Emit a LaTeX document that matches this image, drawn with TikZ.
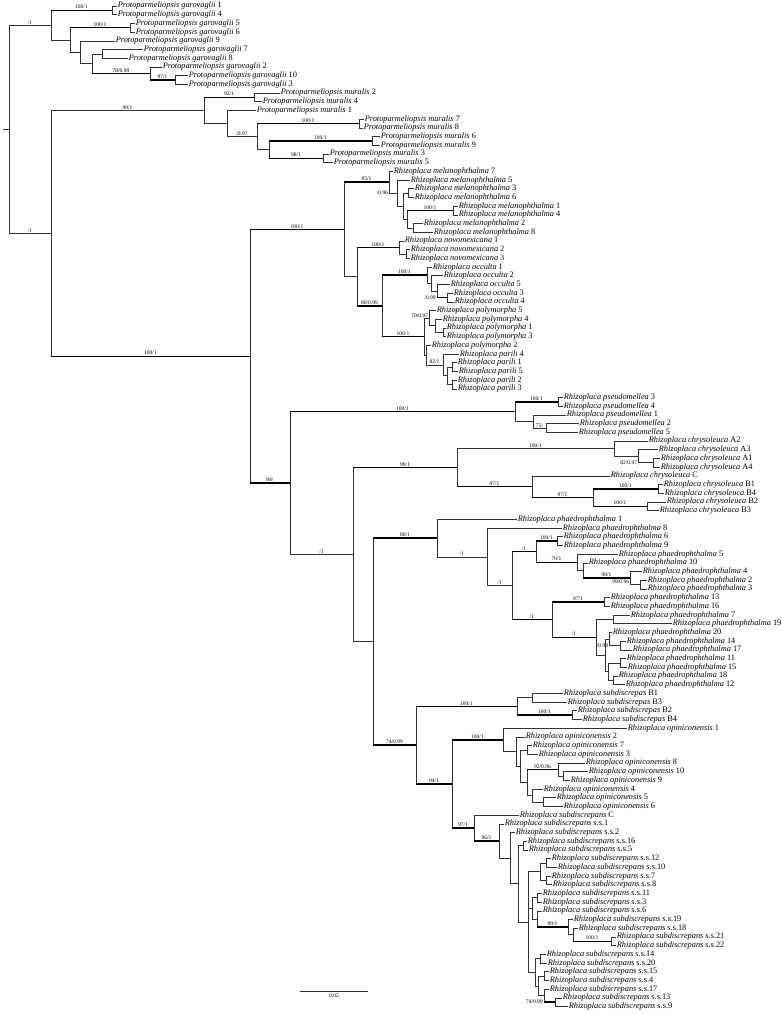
\documentclass[tikz,border=0pt]{standalone}
\usepackage{fontspec}
\setmainfont{Liberation Serif}
\usetikzlibrary{calc}

% inner node of the tree: name, x, first child, last child
\newcommand{\clade}[4]{%
  \path ($(#3)!0.5!(#4)$) coordinate (cmid);
  \coordinate (#1) at (cmid -| #2,0);}

\begin{document}
\begin{tikzpicture}[x=1pt, y=-8.7pt,
    br/.style={draw=black!80, line width=0.6pt},
    hb/.style={draw=black, line width=1.4pt},
    lf/.style={anchor=west, inner sep=0.6pt, font=\fontsize{8.3}{9}\selectfont},
    bs/.style={above, inner sep=0.6pt, font=\fontsize{5.5}{6}\selectfont},
    bsl/.style={anchor=east, inner sep=0.6pt, font=\fontsize{5.5}{6}\selectfont}]
\useasboundingbox (0,-0.6897) rectangle (782,115.977);

%taxa Protoparmeliopsis
\foreach \nm/\xx/\yy/\lb in {g1/117/0/1, g4/117/1/4, g5/135/2/5, g6/135/3/6, g9/115/4/9,
    g7/143/5/7, g8/128/6/8, g2/162/7/2, g10/188/8/10, g3/188/9/3}
  \node[lf] (\nm) at (\xx,\yy) {\textit{Protoparmeliopsis garovaglii} \lb};
\foreach \nm/\xx/\yy/\lb in {m2/280/10/2, m4/262/11/4, m1/256/12/1, m7/364/13/7, m8/363/14/8,
    m6/380/15/6, m9/380/16/9, m3/329/17/3, m5/333/18/5}
  \node[lf] (\nm) at (\xx,\yy) {\textit{Protoparmeliopsis muralis} \lb};
%taxa Rhizoplaca
\foreach \nm/\xx/\yy/\lb in {me7/393/19/7, me5/410/20/5, me3/414/21/3, me6/414/22/6,
    me1/458/23/1, me4/458/24/4, me2/423/25/2, me8/433/26/8}
  \node[lf] (\nm) at (\xx,\yy) {\textit{Rhizoplaca melanophthalma} \lb};
\foreach \nm/\xx/\yy/\lb in {n1/404/27/1, n2/410/28/2, n3/410/29/3}
  \node[lf] (\nm) at (\xx,\yy) {\textit{Rhizoplaca novomexicana} \lb};
\foreach \nm/\xx/\yy/\lb in {o1/432/30/1, o2/443/31/2, o5/450/32/5, o3/453/33/3, o4/454/34/4}
  \node[lf] (\nm) at (\xx,\yy) {\textit{Rhizoplaca occulta} \lb};
\foreach \nm/\xx/\yy/\lb in {p5/436/35/5, p4/442/36/4, p1/446/37/1, p3/446/38/3, p2/431/39/2}
  \node[lf] (\nm) at (\xx,\yy) {\textit{Rhizoplaca polymorpha} \lb};
\foreach \nm/\xx/\yy/\lb in {r4/459/40/4, r1/457/41/1, r5/458/42/5, r2/457/43/2, r3/457/44/3}
  \node[lf] (\nm) at (\xx,\yy) {\textit{Rhizoplaca parili} \lb};
\foreach \nm/\xx/\yy/\lb in {s3/563/45/3, s4/563/46/4, s1/566/47/1, s2/579/48/2, s5/578/49/5}
  \node[lf] (\nm) at (\xx,\yy) {\textit{Rhizoplaca pseudomellea} \lb};
\foreach \nm/\xx/\yy/\lb in {cA2/648/50/A2, cA3/658/51/A3, cA1/660/52/A1, cA4/660/53/A4,
    cC/610/54/C, cB1/663/55/B1, cB4/664/56/B4, cB2/666/57/B2, cB3/659/58/B3}
  \node[lf] (\nm) at (\xx,\yy) {\textit{Rhizoplaca chrysoleuca} \lb};
\foreach \nm/\xx/\yy/\lb in {h1/517/59/1, h8/562/60/8, h6/563/61/6, h9/563/62/9, h5/618/63/5,
    h10/588/64/10, h4/642/65/4, h2/647/66/2, h3/647/67/3, h13/610/68/13, h16/610/69/16,
    h7/630/70/7, h19/672/71/19, h20/612/72/20, h14/626/73/14, h17/632/74/17, h11/626/75/11,
    h15/627/76/15, h18/618/77/18, h12/625/78/12}
  \node[lf] (\nm) at (\xx,\yy) {\textit{Rhizoplaca phaedrophthalma} \lb};
\foreach \nm/\xx/\yy/\lb in {dB1/563/79/B1, dB3/567/80/B3, dB2/577/81/B2, dB4/582/82/B4}
  \node[lf] (\nm) at (\xx,\yy) {\textit{Rhizoplaca subdiscrepas} \lb};
\foreach \nm/\xx/\yy/\lb in {q1/627/83/1, q2/525/84/2, q7/532/85/7, q3/538/86/3, q8/585/87/8,
    q10/588/88/10, q9/570/89/9, q4/543/90/4, q5/556/91/5, q6/563/92/6}
  \node[lf] (\nm) at (\xx,\yy) {\textit{Rhizoplaca opiniconensis} \lb};
\foreach \nm/\xx/\yy/\lb in {tC/519/93/C, t1/504/94/s.s.1, t2/515/95/s.s.2, t16/527/96/s.s.16,
    t5/528/97/s.s.5, t12/551/98/s.s.12, t10/557/99/s.s.10, t7/551/100/s.s.7, t8/552/101/s.s.8,
    t11/542/102/s.s.11, t3/542/103/s.s.3, t6/542/104/s.s.6, t19/573/105/s.s.19,
    t18/578/106/s.s.18, t21/616/107/s.s.21, t22/616/108/s.s.22, t14/546/109/s.s.14,
    t20/547/110/s.s.20, t15/549/111/s.s.15, t4/549/112/s.s.4, t17/549/113/s.s.17,
    t13/562/114/s.s.13, t9/568/115/s.s.9}
  \node[lf] (\nm) at (\xx,\yy) {\textit{Rhizoplaca subdiscrepans} \lb};

%inner nodes, from the tips down
\clade{G14}{112}{g1}{g4}
\clade{G56}{130}{g5}{g6}
\clade{G78}{102}{g7}{g8}
\clade{G103}{175}{g10}{g3}
\clade{G2103}{150}{g2}{G103}
\clade{G7x}{92}{G78}{G2103}
\clade{G9x}{80}{g9}{G7x}
\clade{G5x}{70}{G56}{G9x}
\clade{GAR}{51}{G14}{G5x}
\clade{M24}{254}{m2}{m4}
\clade{M78}{359}{m7}{m8}
\clade{M69}{372}{m6}{m9}
\clade{M35}{323}{m3}{m5}
\clade{M6935}{269}{M69}{M35}
\clade{M7835}{257}{M78}{M6935}
\clade{M1x}{227}{m1}{M7835}
\clade{MUR}{204}{M24}{M1x}
\clade{E14}{453}{me1}{me4}
\clade{E28}{413}{me2}{me8}
\clade{E1428}{407}{E14}{E28}
\clade{E36}{408}{me3}{me6}
\clade{E3x}{403}{E36}{E1428}
\clade{E5x}{397}{me5}{E3x}
\clade{MEL}{389}{me7}{E5x}
\clade{N23}{406}{n2}{n3}
\clade{NOV}{399}{n1}{N23}
\clade{O34}{447}{o3}{o4}
\clade{O5x}{437}{o5}{O34}
\clade{O2x}{431}{o2}{O5x}
\clade{OCC}{427}{o1}{O2x}
\clade{P13}{443}{p1}{p3}
\clade{P4x}{435}{p4}{P13}
\clade{POL}{429}{p5}{P4x}
\clade{R15}{452}{r1}{r5}
\clade{R23}{452}{r2}{r3}
\clade{R1523}{447}{R15}{R23}
\clade{PAR}{443}{r4}{R1523}
\clade{P2x}{426}{p2}{PAR}
\clade{PP}{424}{POL}{P2x}
\clade{OP}{382}{OCC}{PP}
\clade{NOP}{357}{NOV}{OP}
\clade{MELC}{344}{MEL}{NOP}
\clade{S34}{558}{s3}{s4}
\clade{S25}{546}{s2}{s5}
\clade{S1x}{533}{s1}{S25}
\clade{PSE}{515}{S34}{S1x}
\clade{A14}{653}{cA1}{cA4}
\clade{A3x}{638}{cA3}{A14}
\clade{CA}{614}{cA2}{A3x}
\clade{B14}{658}{cB1}{cB4}
\clade{B23}{647}{cB2}{cB3}
\clade{CB4}{593}{B14}{B23}
\clade{CCB}{532}{cC}{CB4}
\clade{CHR}{457}{CA}{CCB}
\clade{H69}{557}{h6}{h9}
\clade{H23}{640}{h2}{h3}
\clade{H423}{630}{h4}{H23}
\clade{H10x}{583}{h10}{H423}
\clade{H5x}{577}{h5}{H10x}
\clade{H4}{536}{H69}{H5x}
\clade{H1316}{604}{h13}{h16}
\clade{H719}{613}{h7}{h19}
\clade{H1417}{620}{h14}{h17}
\clade{H20x}{609}{h20}{H1417}
\clade{H1115}{620}{h11}{h15}
\clade{H1812}{613}{h18}{h12}
\clade{H11x}{608}{H1115}{H1812}
\clade{HRE}{605}{H20x}{H11x}
\clade{H6}{596}{H719}{HRE}
\clade{H5}{552}{H1316}{H6}
\clade{H3}{512}{H4}{H5}
\clade{H2}{487}{h8}{H3}
\clade{PH}{437}{h1}{H2}
\clade{D13}{532}{dB1}{dB3}
\clade{D24}{572}{dB2}{dB4}
\clade{DSB}{517}{D13}{D24}
\clade{Q73}{527}{q7}{q3}
\clade{Q109}{563}{q10}{q9}
\clade{Q8x}{558}{q8}{Q109}
\clade{Q56}{543}{q5}{q6}
\clade{Q4x}{532}{q4}{Q56}
\clade{Q8q4}{527}{Q8x}{Q4x}
\clade{Q3x}{520}{Q73}{Q8q4}
\clade{Q2x}{516}{q2}{Q3x}
\clade{OPI}{503}{q1}{Q2x}
\clade{T165}{523}{t16}{t5}
\clade{T1210}{546}{t12}{t10}
\clade{T78}{546}{t7}{t8}
\clade{T12108}{540}{T1210}{T78}
\clade{T113}{537}{t11}{t3}
\clade{T2122}{611}{t21}{t22}
\clade{T1821}{573}{t18}{T2122}
\clade{T19x}{568}{t19}{T1821}
\clade{T6x}{537}{t6}{T19x}
\clade{T1136}{532}{T113}{T6x}
\clade{T1420}{540}{t14}{t20}
\clade{T154}{544}{t15}{t4}
\clade{T139}{555}{t13}{t9}
\clade{T17x}{544}{t17}{T139}
\clade{T15x}{538}{T154}{T17x}
\clade{TLO}{535}{T1420}{T15x}
\clade{TBG}{528}{T12108}{TLO}
\clade{T3x}{518}{T165}{TBG}
\clade{T2x}{510}{t2}{T3x}
\clade{T96}{499}{t1}{T2x}
\clade{T97}{474}{tC}{T96}
\clade{T94}{452}{OPI}{T97}
\clade{SUB}{416}{DSB}{T94}
\clade{PHS}{373}{PH}{SUB}
\clade{N1A}{353}{CHR}{PHS}
\clade{N84}{290}{PSE}{N1A}
\clade{RHZ}{250}{MELC}{N84}
\clade{BIG}{51}{MUR}{RHZ}
\clade{ROOT}{9}{GAR}{BIG}
\coordinate (stub) at (ROOT -| 3,0);

%garovaglii
\draw[br] (G14) |- (g1.west) (G14) |- (g4.west);
\draw[br] (G56) |- (g5.west) (G56) |- (g6.west);
\draw[br] (G78) |- (g7.west) (G78) |- (g8.west);
\draw[br] (G103) |- (g10.west) (G103) |- (g3.west);
\draw[br] (G2103) |- (g2.west) (G2103) |- (G103);
\draw[br] (G7x) |- (G78) (G7x) |- (G2103);
\draw[br] (G9x) |- (g9.west) (G9x) |- (G7x);
\draw[br] (G5x) |- (G56) (G5x) |- (G9x);
\draw[br] (GAR) |- (G14) (GAR) |- (G5x);
\draw[hb] (GAR |- G14) -- node[bs]{100/1} (G14);
\draw[hb] (G5x |- G56) -- node[bs]{100/1} (G56);
\draw[hb] (G7x |- G2103) -- node[bs]{78/0.99} (G2103);
\draw[hb] (G2103 |- G103) -- node[bs]{97/1} (G103);
%muralis
\draw[br] (M24) |- (m2.west) (M24) |- (m4.west);
\draw[br] (M78) |- (m7.west) (M78) |- (m8.west);
\draw[br] (M69) |- (m6.west) (M69) |- (m9.west);
\draw[br] (M35) |- (m3.west) (M35) |- (m5.west);
\draw[br] (M6935) |- (M69) (M6935) |- (M35);
\draw[br] (M7835) |- (M78) (M7835) |- (M6935);
\draw[br] (M1x) |- (m1.west) (M1x) |- node[bs, pos=.75]{/0.97} (M7835);
\draw[br] (MUR) |- (M24) (MUR) |- (M1x);
\draw[hb] (MUR |- M24) -- node[bs]{92/1} (M24);
\draw[hb] (M7835 |- M78) -- node[bs]{100/1} (M78);
\draw[hb] (M6935 |- M69) -- node[bs]{100/1} (M69);
\draw[hb] (M6935 |- M35) -- node[bs]{98/1} (M35);
%melanophthalma
\draw[br] (E14) |- (me1.west) (E14) |- (me4.west);
\draw[br] (E28) |- (me2.west) (E28) |- (me8.west);
\draw[br] (E1428) |- (E14) (E1428) |- (E28);
\draw[br] (E36) |- (me3.west) (E36) |- (me6.west);
\draw[br] (E3x) |- (E36) (E3x) |- (E1428);
\draw[br] (E5x) |- (me5.west) (E5x) |- (E3x);
\draw[br] (MEL) |- (me7.west) (MEL) |- (E5x) (MEL |- E5x) node[bsl]{/0.96};
\draw[hb] (E1428 |- E14) -- node[bs]{100/1} (E14);
%novomexicana, occulta
\draw[br] (N23) |- (n2.west) (N23) |- (n3.west);
\draw[br] (NOV) |- (n1.west) (NOV) |- (N23);
\draw[br] (O34) |- (o3.west) (O34) |- (o4.west);
\draw[br] (O5x) |- (o5.west) (O5x) |- (O34);
\draw[br] (O2x) |- (o2.west) (O2x) |- (O5x);
\draw[br] (OCC) |- (o1.west) (OCC) |- (O2x);
\draw[hb] (O5x |- O34) node[bsl]{/0.99} -- (O34);
%polymorpha, parili
\draw[br] (P13) |- (p1.west) (P13) |- (p3.west);
\draw[br] (P4x) |- (p4.west) (P4x) |- (P13);
\draw[br] (POL) |- (p5.west) (POL) |- (P4x);
\draw[br] (R15) |- (r1.west) (R15) |- (r5.west);
\draw[br] (R23) |- (r2.west) (R23) |- (r3.west);
\draw[br] (R1523) |- (R15) (R1523) |- (R23);
\draw[br] (PAR) |- (r4.west) (PAR) |- (R1523);
\draw[br] (P2x) |- (p2.west) (P2x) |- node[bs, pos=.75]{82/1} (PAR);
\draw[br] (PP) |- (POL) (PP) |- (P2x) (POL) node[bs, anchor=south east]{70/0.97};
\draw[br] (OP) |- (OCC) (OP) |- (PP);
\draw[br] (NOP) |- (NOV) (NOP) |- (OP);
\draw[br] (MELC) |- (MEL) (MELC) |- (NOP);
\draw[hb] (OP |- OCC) -- node[bs]{100/1} (OCC);
\draw[hb] (OP |- PP) -- node[bs]{100/1} (PP);
\draw[hb] (NOP |- NOV) -- node[bs]{100/1} (NOV);
\draw[hb] (NOP |- OP) -- node[bs]{80/0.99} (OP);
\draw[hb] (MELC |- MEL) -- node[bs]{95/1} (MEL);
%pseudomellea
\draw[br] (S34) |- (s3.west) (S34) |- (s4.west);
\draw[br] (S25) |- (s2.west) (S25) |- (s5.west);
\draw[br] (S1x) |- (s1.west) (S1x) |- node[bs, pos=.75]{75/} (S25);
\draw[br] (PSE) |- (S34) (PSE) |- (S1x);
\draw[hb] (PSE |- S34) -- node[bs]{100/1} (S34);
%chrysoleuca
\draw[br] (A14) |- (cA1.west) (A14) |- (cA4.west);
\draw[br] (A3x) |- (cA3.west) (A3x) |- (A14) (A3x |- A14) node[bsl]{82/0.97};
\draw[br] (CA) |- (cA2.west) (CA) |- (A3x);
\draw[br] (B14) |- (cB1.west) (B14) |- (cB4.west);
\draw[br] (B23) |- (cB2.west) (B23) |- (cB3.west);
\draw[br] (CB4) |- (B14) (CB4) |- (B23);
\draw[br] (CCB) |- (cC.west) (CCB) |- (CB4);
\draw[br] (CHR) |- node[bs, pos=.75]{100/1} (CA) (CHR) |- (CCB);
\draw[hb] (CB4 |- B14) -- node[bs]{100/1} (B14);
\draw[hb] (CB4 |- B23) -- node[bs]{100/1} (B23);
\draw[hb] (CCB |- CB4) -- node[bs]{97/1} (CB4);
\draw[hb] (CHR |- CCB) -- node[bs]{97/1} (CCB);
%phaedrophthalma
\draw[br] (H69) |- (h6.west) (H69) |- (h9.west);
\draw[br] (H23) |- (h2.west) (H23) |- (h3.west);
\draw[br] (H423) |- (h4.west) (H423) |- (H23) (H423 |- H23) node[bsl, anchor=south east]{99/0.96};
\draw[br] (H10x) |- (h10.west) (H10x) |- (H423);
\draw[br] (H5x) |- (h5.west) (H5x) |- (H10x);
\draw[br] (H4) |- (H69) (H4) |- (H5x);
\draw[br] (H1316) |- (h13.west) (H1316) |- (h16.west);
\draw[br] (H719) |- (h7.west) (H719) |- (h19.west);
\draw[br] (H1417) |- (h14.west) (H1417) |- (h17.west);
\draw[br] (H20x) |- (h20.west) (H20x) |- (H1417) (H20x |- H1417) node[bsl]{/0.98};
\draw[br] (H1115) |- (h11.west) (H1115) |- (h15.west);
\draw[br] (H1812) |- (h18.west) (H1812) |- (h12.west);
\draw[br] (H11x) |- (H1115) (H11x) |- (H1812);
\draw[br] (HRE) |- (H20x) (HRE) |- (H11x);
\draw[br] (H6) |- (H719) (H6) |- (HRE);
\draw[br] (H5) |- (H1316) (H5) |- (H6);
\draw[br] (H3) |- (H4) (H3) |- (H5);
\draw[br] (H2) |- (h8.west) (H2) |- node[bs, pos=.75]{/1} (H3);
\draw[br] (PH) |- (h1.west) (PH) |- node[bs, pos=.75]{/1} (H2);
\draw[hb] (H4 |- H69) -- node[bs]{100/1} (H69);
\draw[hb] (H4 |- H5x) -- node[bs]{70/1} (H5x);
\draw[hb] (H10x |- H423) -- node[bs]{98/1} (H423);
\draw[hb] (H5 |- H1316) -- node[bs]{97/1} (H1316);
\draw[hb] (H5 |- H6) -- node[bs]{/1} (H6);
\draw[hb] (H3 |- H4) -- node[bs]{/1} (H4);
\draw[hb] (H3 |- H5) -- node[bs]{/1} (H5);
%subdiscrepas, opiniconensis
\draw[br] (D13) |- (dB1.west) (D13) |- (dB3.west);
\draw[br] (D24) |- (dB2.west) (D24) |- (dB4.west);
\draw[br] (DSB) |- (D13) (DSB) |- (D24);
\draw[hb] (DSB |- D24) -- node[bs]{100/1} (D24);
\draw[br] (Q73) |- (q7.west) (Q73) |- (q3.west);
\draw[br] (Q109) |- (q10.west) (Q109) |- (q9.west);
\draw[br] (Q8x) |- (q8.west) (Q8x) |- (Q109);
\draw[br] (Q56) |- (q5.west) (Q56) |- (q6.west);
\draw[br] (Q4x) |- (q4.west) (Q4x) |- (Q56);
\draw[br] (Q8q4) |- (Q8x) (Q8q4) |- (Q4x);
\draw[br] (Q3x) |- (Q73) (Q3x) |- (Q8q4);
\draw[br] (Q2x) |- (q2.west) (Q2x) |- (Q3x);
\draw[br] (OPI) |- (q1.west) (OPI) |- (Q2x);
\draw[hb] (Q8q4 |- Q8x) -- node[bs]{92/0.96} (Q8x);
%subdiscrepans
\draw[br] (T165) |- (t16.west) (T165) |- (t5.west);
\draw[br] (T1210) |- (t12.west) (T1210) |- (t10.west);
\draw[br] (T78) |- (t7.west) (T78) |- (t8.west);
\draw[br] (T12108) |- (T1210) (T12108) |- (T78);
\draw[br] (T113) |- (t11.west) (T113) |- (t3.west);
\draw[br] (T2122) |- (t21.west) (T2122) |- (t22.west);
\draw[br] (T1821) |- (t18.west) (T1821) |- (T2122);
\draw[br] (T19x) |- (t19.west) (T19x) |- (T1821);
\draw[br] (T6x) |- (t6.west) (T6x) |- (T19x);
\draw[br] (T1136) |- (T113) (T1136) |- (T6x);
\draw[br] (T1420) |- (t14.west) (T1420) |- (t20.west);
\draw[br] (T154) |- (t15.west) (T154) |- (t4.west);
\draw[br] (T139) |- (t13.west) (T139) |- (t9.west);
\draw[br] (T17x) |- (t17.west) (T17x) |- (T139);
\draw[br] (T15x) |- (T154) (T15x) |- (T17x);
\draw[br] (TLO) |- (T1420) (TLO) |- (T15x);
\draw[br] (TBG) |- (T12108) (TBG) |- (T1136) (TBG) |- (TLO);
\draw[br] (T3x) |- (T165) (T3x) |- (TBG);
\draw[br] (T2x) |- (t2.west) (T2x) |- (T3x);
\draw[br] (T96) |- (t1.west) (T96) |- (T2x);
\draw[br] (T97) |- (tC.west) (T97) |- (T96);
\draw[br] (T94) |- (OPI) (T94) |- (T97);
\draw[br] (SUB) |- (DSB) (SUB) |- (T94);
\draw[hb] (T1821 |- T2122) -- node[bs]{100/1} (T2122);
\draw[hb] (T6x |- T19x) -- node[bs]{99/1} (T19x);
\draw[hb] (T17x |- T139) node[bsl]{74/0.99} -- (T139);
\draw[hb] (T97 |- T96) -- node[bs]{96/1} (T96);
\draw[hb] (T94 |- T97) -- node[bs]{97/1} (T97);
\draw[hb] (T94 |- OPI) -- node[bs]{100/1} (OPI);
\draw[hb] (SUB |- DSB) -- node[bs]{100/1} (DSB);
\draw[hb] (SUB |- T94) -- node[bs]{94/1} (T94);
%backbone
\draw[br] (PHS) |- (PH) (PHS) |- (SUB);
\draw[br] (N1A) |- (CHR) (N1A) |- (PHS);
\draw[br] (N84) |- (PSE) (N84) |- node[bs, pos=.75]{/1} (N1A);
\draw[br] (RHZ) |- (MELC) (RHZ) |- (N84);
\draw[br] (BIG) |- node[bs, pos=.75]{99/1} (MUR) (BIG) |- (RHZ);
\draw[br] (ROOT) |- node[bs, pos=.75]{/1} (GAR) (ROOT) |- node[bs, pos=.75]{/1} (BIG);
\draw[br] (stub) -- (ROOT);
\draw[hb] (PHS |- PH) -- node[bs]{80/1} (PH);
\draw[hb] (PHS |- SUB) -- node[bs]{74/0.99} (SUB);
\draw[hb] (N1A |- CHR) -- node[bs]{99/1} (CHR);
\draw[hb] (N84 |- PSE) -- node[bs]{100/1} (PSE);
\draw[hb] (RHZ |- MELC) -- node[bs]{100/1} (MELC);
\draw[hb] (RHZ |- N84) -- node[bs]{84/} (N84);
\draw[hb] (BIG |- RHZ) -- node[bs]{100/1} (RHZ);

%scale bar
\coordinate (sbl) at (300,113.3);
\coordinate (sbr) at (368,113.3);
\draw[br] (sbl) -- node[below, inner sep=1.5pt, font=\fontsize{5.5}{6}\selectfont]{0.02} (sbr);
\end{tikzpicture}
\end{document}
